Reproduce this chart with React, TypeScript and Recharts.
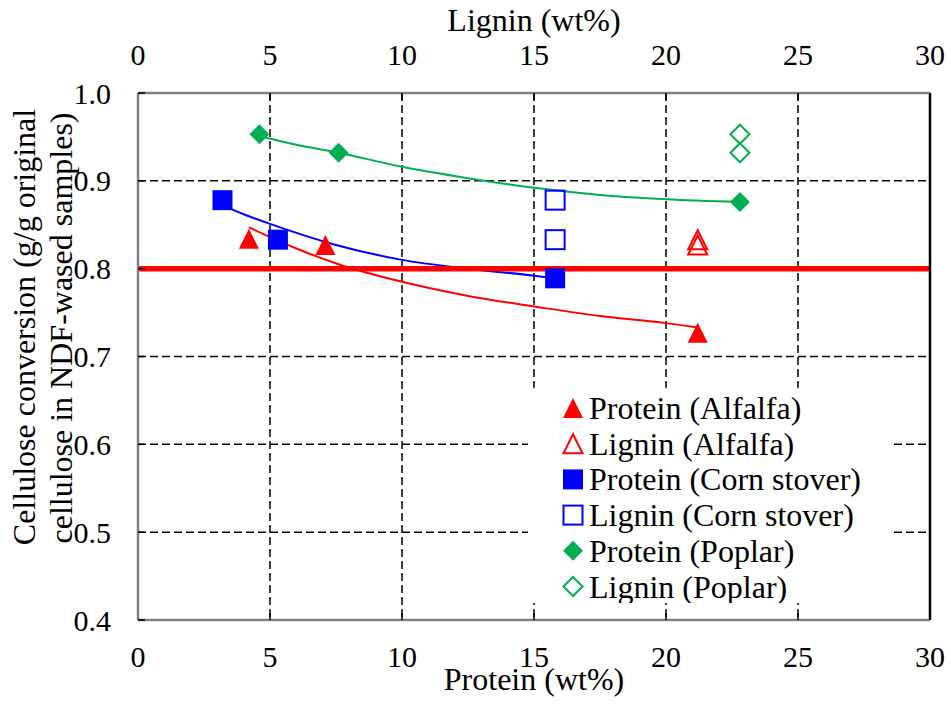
import React from 'react';
import {
  ComposedChart, XAxis, YAxis, CartesianGrid, Scatter, Line, ReferenceLine, Legend,
} from 'recharts';

// ---- data ----
const xTicks = [0, 5, 10, 15, 20, 25, 30];
const yTicks = [0.4, 0.5, 0.6, 0.7, 0.8, 0.9, 1.0];

const alfalfaProtein = [{ x: 4.2, y: 0.834 }, { x: 7.1, y: 0.827 }, { x: 21.2, y: 0.727 }];
const alfalfaLignin = [{ x: 21.2, y: 0.833 }, { x: 21.2, y: 0.827 }];
const cornProtein = [{ x: 3.2, y: 0.878 }, { x: 5.3, y: 0.833 }, { x: 15.8, y: 0.789 }];
const cornLignin = [{ x: 15.8, y: 0.878 }, { x: 15.8, y: 0.833 }];
const poplarProtein = [{ x: 4.6, y: 0.953 }, { x: 7.6, y: 0.932 }, { x: 22.8, y: 0.876 }];
const poplarLignin = [{ x: 22.8, y: 0.953 }, { x: 22.8, y: 0.932 }];

// trend curves (points read along the drawn fits)
const alfalfaTrend = [
  { x: 4.2, y: 0.847 }, { x: 5, y: 0.836 }, { x: 6, y: 0.823 }, { x: 7.6, y: 0.805 },
  { x: 10, y: 0.785 }, { x: 12.5, y: 0.769 }, { x: 15, y: 0.757 }, { x: 17.5, y: 0.746 },
  { x: 20, y: 0.738 }, { x: 21.2, y: 0.733 },
];
const cornTrend = [
  { x: 3.2, y: 0.872 }, { x: 4, y: 0.862 }, { x: 5, y: 0.851 }, { x: 7.5, y: 0.827 },
  { x: 10, y: 0.81 }, { x: 12.5, y: 0.8 }, { x: 15, y: 0.792 }, { x: 15.8, y: 0.789 },
];
const poplarTrend = [
  { x: 4.6, y: 0.951 }, { x: 6, y: 0.941 }, { x: 7.6, y: 0.932 }, { x: 10, y: 0.916 },
  { x: 12.5, y: 0.903 }, { x: 15, y: 0.892 }, { x: 17.5, y: 0.884 }, { x: 20, y: 0.879 },
  { x: 22.8, y: 0.876 },
];

const thresholdY = 0.8;

const legendLabels = [
  'Protein (Alfalfa)', 'Lignin (Alfalfa)', 'Protein (Corn stover)',
  'Lignin (Corn stover)', 'Protein (Poplar)', 'Lignin (Poplar)',
];

// ---- styles ----
const RED = '#ff0000';
const BLUE = '#0000ff';
const GREEN = '#00b050';
const FONT = "'Liberation Serif', 'Times New Roman', Times, serif";

const legendMarkers = [
  { kind: 'triangle', color: RED, filled: true },
  { kind: 'triangle', color: RED, filled: false },
  { kind: 'square', color: BLUE, filled: true },
  { kind: 'square', color: BLUE, filled: false },
  { kind: 'diamond', color: GREEN, filled: true },
  { kind: 'diamond', color: GREEN, filled: false },
];

function Marker({ cx, cy, kind, color, filled }: any) {
  if (cx == null || cy == null) return null;
  const size = filled ? 20 : 19;
  const h = size / 2;
  const common = filled
    ? { fill: color, stroke: 'none' }
    : { fill: 'none', stroke: color, strokeWidth: 2 };
  if (kind === 'triangle') {
    return <polygon points={`${cx},${cy - h} ${cx + h},${cy + h} ${cx - h},${cy + h}`} {...common} />;
  }
  if (kind === 'square') {
    return <rect x={cx - h} y={cy - h} width={size} height={size} {...common} />;
  }
  return <polygon points={`${cx},${cy - h} ${cx + h},${cy} ${cx},${cy + h} ${cx - h},${cy}`} {...common} />;
}

const textStyle = { fontFamily: FONT };

function LegendBox() {
  return (
    <svg width={365} height={215} style={{ display: 'block', background: '#fff' }}>
      {legendLabels.map((label, i) => {
        const cy = 20 + i * 35.7;
        const m = legendMarkers[i];
        return (
          <g key={label}>
            <Marker cx={45} cy={cy} kind={m.kind} color={m.color} filled={m.filled} />
            <text x={61} y={cy + 11} style={textStyle} fontSize={32} fill="#000">{label}</text>
          </g>
        );
      })}
    </svg>
  );
}

function YTitle() {
  return (
    <g style={textStyle} fontSize={32} fill="#000">
      <text x={35} y={327} style={textStyle} textAnchor="middle" transform="rotate(-90, 35, 327)">
        Cellulose conversion (g/g original
      </text>
      <text x={72} y={328} style={textStyle} textAnchor="middle" transform="rotate(-90, 72, 328)">
        cellulose in NDF-wased samples)
      </text>
    </g>
  );
}

const tickStyle = { fontFamily: FONT, fontSize: 30, fill: '#000', style: textStyle };
const axisLineStyle = { stroke: '#808080', strokeWidth: 2.5 };
const tickLineStyle = { stroke: '#000', strokeWidth: 1.5 };

export default function App() {
  return (
    <div style={{ position: 'absolute', left: 0, top: 0, width: 951, height: 704, background: '#fff', fontFamily: FONT }}>
      <ComposedChart
        width={951}
        height={704}
        margin={{ top: 0, right: 21, bottom: 0, left: 0 }}
        style={{ fontFamily: FONT }}
      >
        <XAxis
          xAxisId="bottom"
          dataKey="x"
          type="number"
          orientation="bottom"
          domain={[0, 30]}
          ticks={xTicks}
          height={84}
          tick={tickStyle}
          tickSize={-7}
          tickMargin={33}
          axisLine={axisLineStyle}
          tickLine={tickLineStyle}
          allowDataOverflow
          label={{ value: 'Protein (wt%)', position: 'insideBottom', offset: 14, style: textStyle, fontSize: 32, fill: '#000' }}
        />
        <XAxis
          xAxisId="top"
          dataKey="x"
          type="number"
          orientation="top"
          domain={[0, 30]}
          ticks={xTicks}
          height={93}
          tick={tickStyle}
          tickSize={-7}
          tickMargin={35}
          axisLine={axisLineStyle}
          tickLine={tickLineStyle}
          allowDataOverflow
          label={{ value: 'Lignin (wt%)', position: 'insideTop', offset: 8, style: textStyle, fontSize: 32, fill: '#000' }}
        />
        <YAxis
          yAxisId="left"
          dataKey="y"
          type="number"
          domain={[0.4, 1.0]}
          ticks={yTicks}
          width={138}
          tick={tickStyle}
          tickSize={-7}
          tickMargin={34}
          tickFormatter={(v: number) => v.toFixed(1)}
          axisLine={axisLineStyle}
          tickLine={tickLineStyle}
          allowDataOverflow
          label={{ content: () => <YTitle /> }}
        />
        <CartesianGrid
          xAxisId="bottom"
          yAxisId="left"
          stroke="#000"
          strokeWidth={1.5}
          strokeDasharray="8 4"
        />
        <Line xAxisId="bottom" yAxisId="left" data={alfalfaTrend} dataKey="y" type="monotone"
          stroke={RED} strokeWidth={2} dot={false} activeDot={false} legendType="none" isAnimationActive={false} />
        <Line xAxisId="bottom" yAxisId="left" data={cornTrend} dataKey="y" type="monotone"
          stroke={BLUE} strokeWidth={2} dot={false} activeDot={false} legendType="none" isAnimationActive={false} />
        <Line xAxisId="bottom" yAxisId="left" data={poplarTrend} dataKey="y" type="monotone"
          stroke={GREEN} strokeWidth={2} dot={false} activeDot={false} legendType="none" isAnimationActive={false} />
        <ReferenceLine xAxisId="bottom" yAxisId="left" y={thresholdY} stroke={RED} strokeWidth={5.5} />
        <ReferenceLine xAxisId="bottom" yAxisId="left" x={30} stroke="#000" strokeWidth={2.5} />
        <Scatter name="Protein (Alfalfa)" xAxisId="bottom" yAxisId="left" data={alfalfaProtein} isAnimationActive={false}
          shape={(p: any) => <Marker cx={p.cx} cy={p.cy} kind="triangle" color={RED} filled />} />
        <Scatter name="Lignin (Alfalfa)" xAxisId="top" yAxisId="left" data={alfalfaLignin} isAnimationActive={false}
          shape={(p: any) => <Marker cx={p.cx} cy={p.cy} kind="triangle" color={RED} filled={false} />} />
        <Scatter name="Protein (Corn stover)" xAxisId="bottom" yAxisId="left" data={cornProtein} isAnimationActive={false}
          shape={(p: any) => <Marker cx={p.cx} cy={p.cy} kind="square" color={BLUE} filled />} />
        <Scatter name="Lignin (Corn stover)" xAxisId="top" yAxisId="left" data={cornLignin} isAnimationActive={false}
          shape={(p: any) => <Marker cx={p.cx} cy={p.cy} kind="square" color={BLUE} filled={false} />} />
        <Scatter name="Protein (Poplar)" xAxisId="bottom" yAxisId="left" data={poplarProtein} isAnimationActive={false}
          shape={(p: any) => <Marker cx={p.cx} cy={p.cy} kind="diamond" color={GREEN} filled />} />
        <Scatter name="Lignin (Poplar)" xAxisId="top" yAxisId="left" data={poplarLignin} isAnimationActive={false}
          shape={(p: any) => <Marker cx={p.cx} cy={p.cy} kind="diamond" color={GREEN} filled={false} />} />
        <Legend
          layout="vertical"
          align="center"
          verticalAlign="middle"
          wrapperStyle={{ position: 'absolute', left: 528, top: 388, width: 365, height: 215, background: '#fff' }}
          content={() => <LegendBox />}
        />
      </ComposedChart>
    </div>
  );
}
